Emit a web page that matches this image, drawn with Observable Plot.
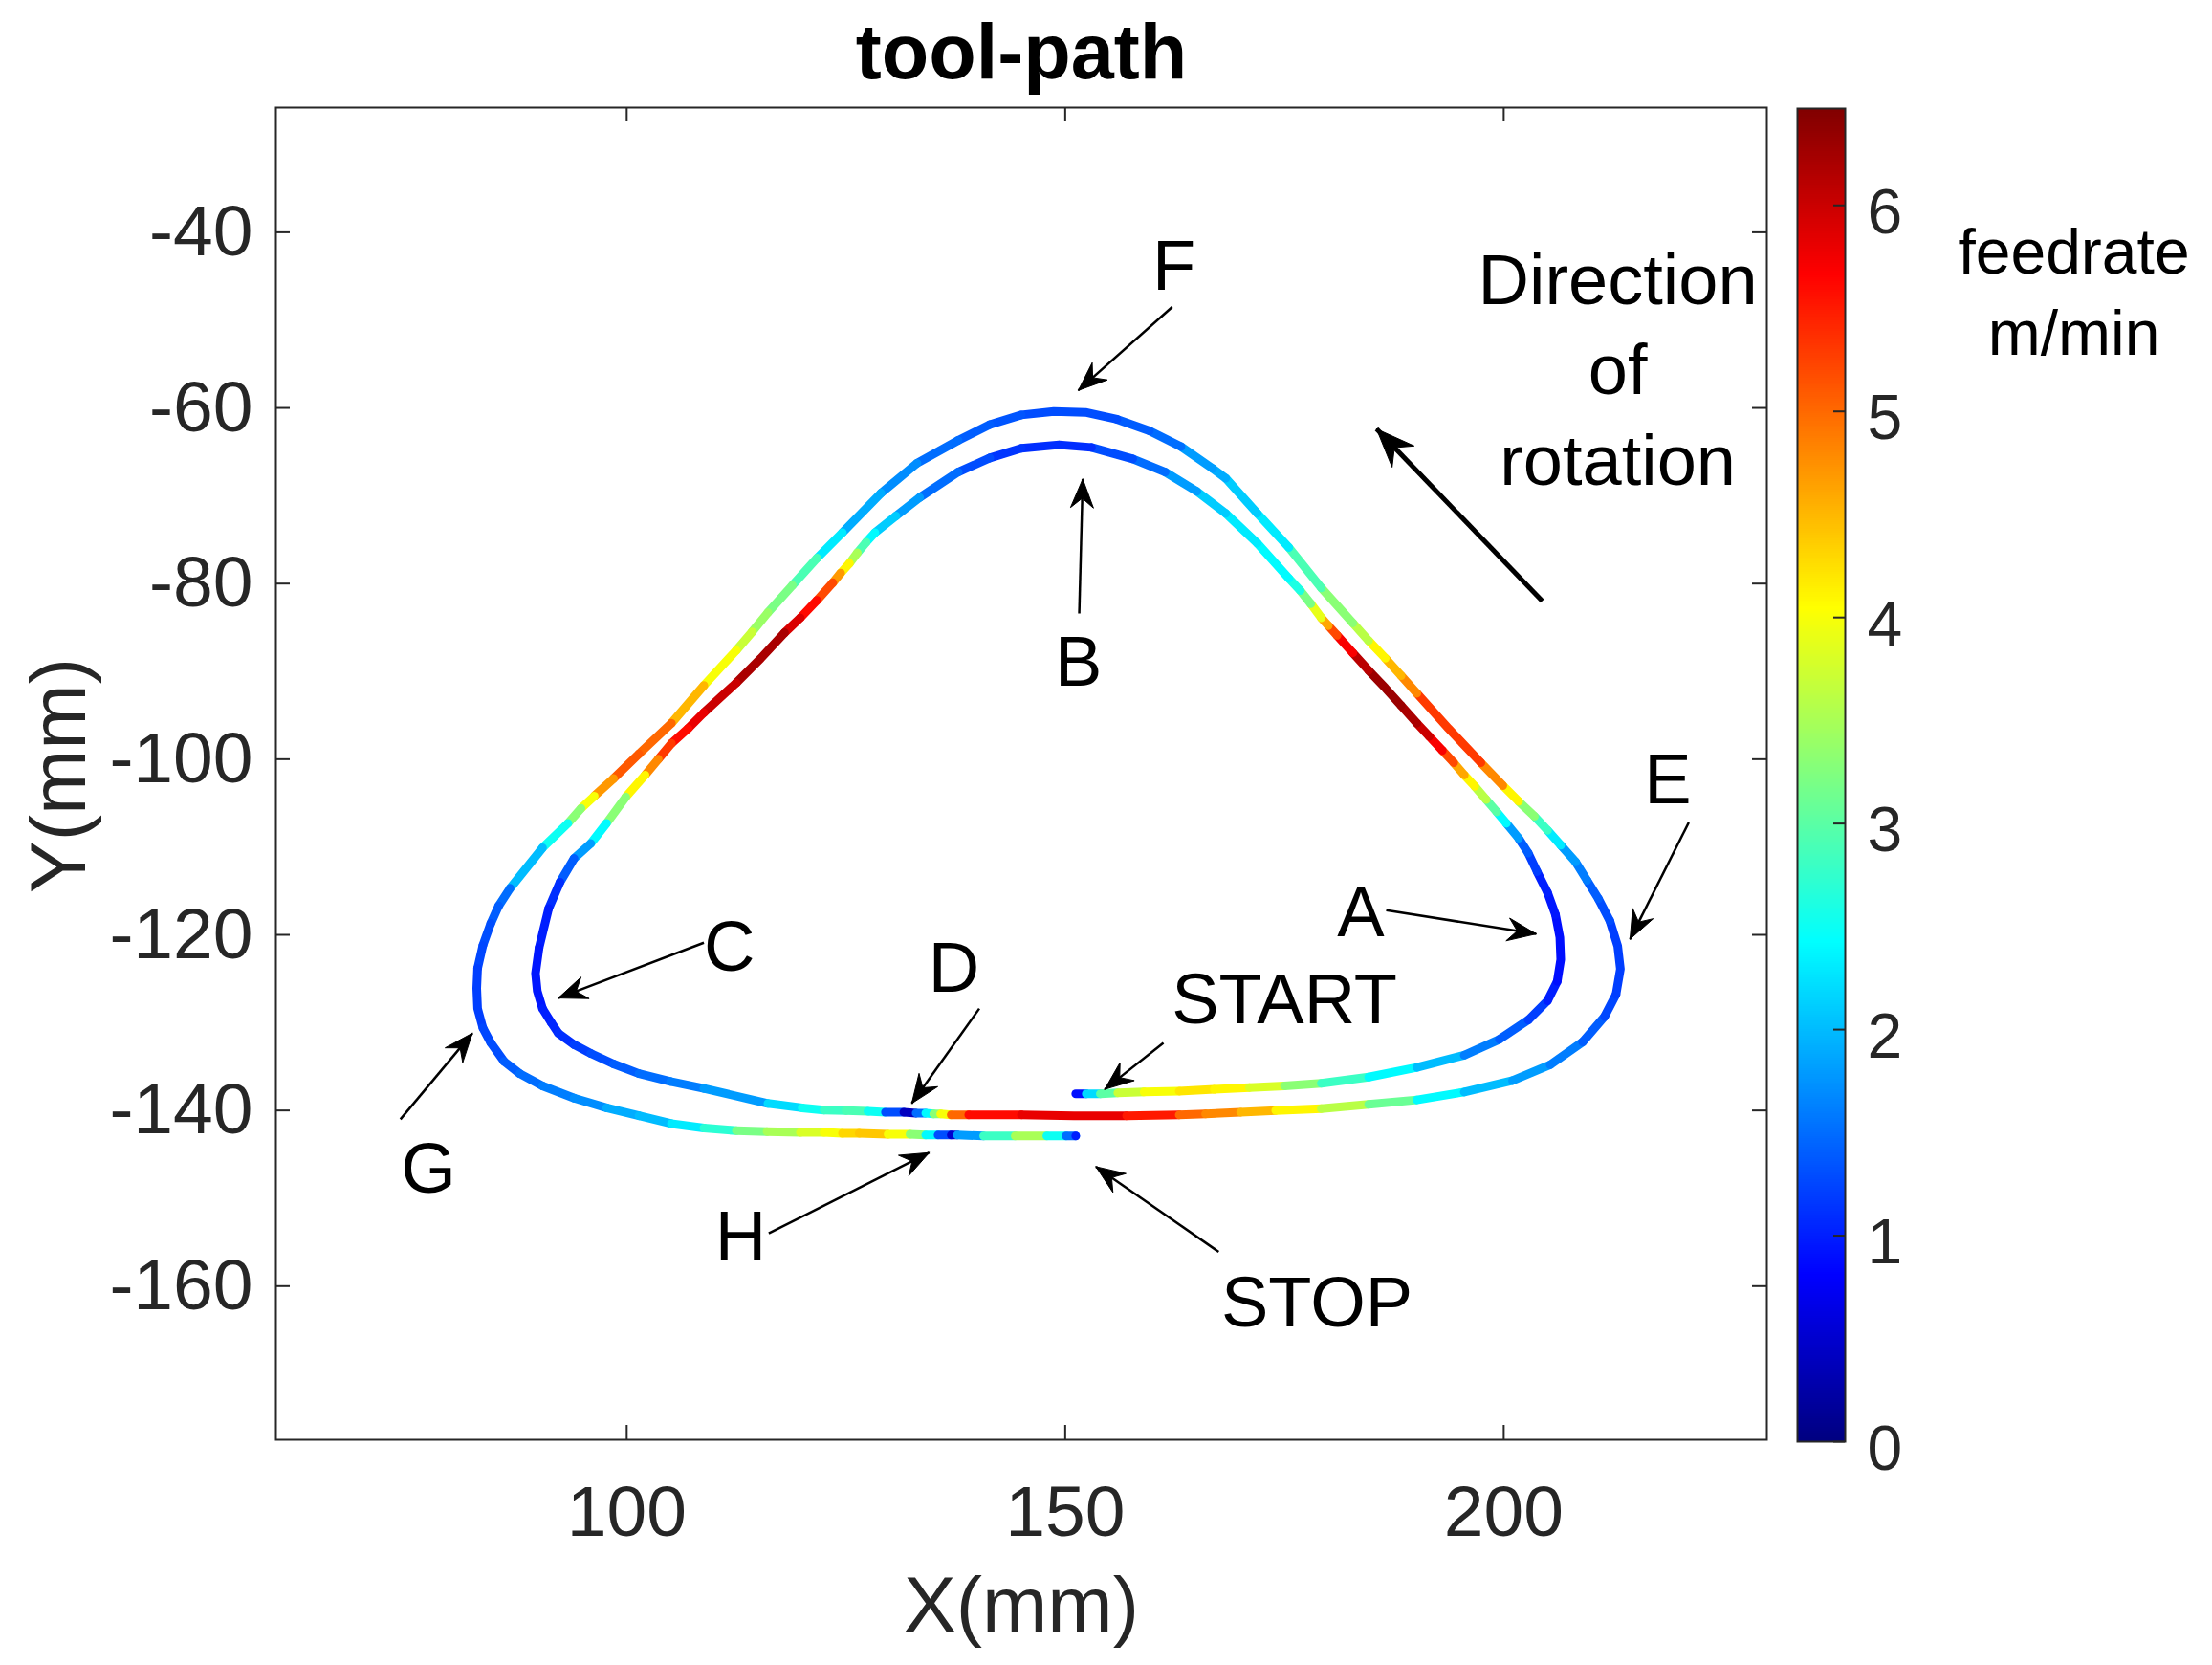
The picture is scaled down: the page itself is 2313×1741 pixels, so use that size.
<!DOCTYPE html>
<html><head><meta charset="utf-8">
<script src="https://cdn.jsdelivr.net/npm/d3@7"></script>
<script src="https://cdn.jsdelivr.net/npm/@observablehq/plot@0.6"></script>
<style>
html,body{margin:0;padding:0;background:#fff;}
#wrap{position:relative;width:2313px;height:1741px;overflow:hidden;background:#fff;}
#wrap svg{position:absolute;top:0;}
</style></head><body><div id="wrap"></div>
<script>
const FONT = '"Liberation Sans", Arial, Helvetica, sans-serif';

// ---- tool path, first (inner) revolution: START -> A -> B -> C -> D
const loop1X = [151.2,152.4,154.0,156.0,159.0,163.0,167.0,171.0,175.0,179.2,
184.6,190.1,195.5,199.5,202.8,205.0,206.1,206.5,206.4,205.9,
205.0,203.8,202.8,201.7,200.3,199.2,198.0,196.7,195.5,194.3,
193.0,191.5,190.1,188.3,186.5,184.6,182.8,181.0,180.0,179.2,
178.0,176.8,175.5,171.9,168.3,165.0,161.4,157.7,153.0,149.3,
145.0,141.4,137.8,133.4,130.7,128.3,127.3,126.3,125.4,124.4,
123.5,121.7,119.8,118.0,115.3,112.5,108.8,107.0,105.1,103.6,
102.1,99.9,97.7,95.9,94.0,92.4,91.1,90.0,89.6,89.8,
90.4,91.4,92.2,94.0,95.9,98.5,101.4,105.0,108.8,116.1,
120.0,122.5,125.0,127.5,129.5,131.6];
const loop1Y = [-138.1,-138.1,-138.1,-138.0,-137.9,-137.8,-137.6,-137.4,-137.2,-136.9,
-136.2,-135.1,-133.7,-131.9,-129.7,-127.5,-125.3,-122.8,-120.3,-117.7,
-115.2,-112.8,-110.7,-109.0,-107.3,-106.0,-104.6,-103.1,-101.8,-100.4,
-99.0,-97.4,-95.9,-93.9,-91.9,-89.9,-87.9,-85.9,-84.8,-83.9,
-82.3,-80.8,-79.4,-75.4,-72.0,-69.5,-67.3,-65.8,-64.5,-64.2,
-64.6,-65.7,-67.3,-70.2,-72.3,-74.2,-75.3,-76.5,-77.7,-78.8,
-79.9,-81.9,-83.9,-85.6,-88.5,-91.3,-94.7,-96.5,-98.2,-100.0,
-101.8,-104.3,-107.3,-109.6,-111.3,-114.0,-117.0,-121.5,-124.4,-126.4,
-128.4,-130.0,-131.2,-132.5,-133.5,-134.7,-135.8,-136.7,-137.5,-139.2,
-139.7,-139.95,-140.0,-140.1,-140.2,-140.2];
const loop1F = [0.9,2.2,3.0,3.7,4.0,4.2,4.1,3.8,3.3,2.8,
2.4,2.0,1.6,1.4,1.2,1.0,0.9,0.9,0.9,0.95,
1.0,1.2,1.4,1.8,2.4,3.0,3.6,4.1,4.6,5.2,
5.7,6.0,6.2,6.3,6.3,6.1,5.7,5.2,4.6,3.9,
3.2,2.6,2.4,2.3,2.1,1.8,1.5,1.3,1.1,1.1,
1.15,1.3,1.5,1.8,2.1,2.4,2.9,3.5,4.1,4.7,
5.2,5.6,5.9,6.2,6.2,6.0,5.8,5.6,5.3,4.8,
4.1,3.3,2.4,1.8,1.4,1.1,1.0,0.95,0.95,0.95,
1.0,1.05,1.1,1.2,1.3,1.4,1.5,1.6,1.8,2.2,
2.5,2.8,2.9,2.5,1.3,0.4];

// ---- second (outer) revolution: D -> E -> F -> G -> H -> STOP
const loop2X = [133.0,134.1,135.0,135.8,137.0,139.0,145.0,151.0,157.0,163.0,
166.0,170.0,174.0,179.2,184.6,190.1,195.5,201.0,205.3,209.0,
211.5,212.8,213.3,213.0,212.1,210.8,209.5,208.2,206.5,205.0,
203.5,201.7,199.9,197.4,193.7,190.1,188.3,186.5,184.6,182.8,
179.2,175.5,171.9,168.3,166.8,163.2,159.6,155.9,152.3,148.7,
145.0,141.4,137.8,133.1,129.0,124.6,121.7,118.9,116.1,114.3,
112.5,108.8,105.1,101.4,98.5,96.3,94.8,93.3,90.4,86.7,
85.4,84.5,83.6,83.0,82.9,83.0,83.6,84.5,86.0,87.8,
90.4,94.0,97.7,101.4,105.1,108.8,112.5,116.0,119.8,122.5,
124.6,126.5,129.8,132.3,134.1,135.5,137.0,137.7,140.7,144.3,
147.9,150.1,151.2];
const loop2Y = [-140.3,-140.3,-140.4,-140.4,-140.5,-140.5,-140.5,-140.6,-140.6,-140.5,
-140.4,-140.2,-140.0,-139.8,-139.3,-138.8,-137.9,-136.6,-134.8,-132.2,
-129.3,-126.8,-123.9,-121.3,-118.4,-115.9,-113.8,-111.7,-109.8,-108.1,
-106.5,-104.8,-103.0,-100.4,-96.5,-92.5,-90.5,-88.5,-86.5,-84.5,
-80.5,-75.9,-72.0,-68.0,-66.9,-64.4,-62.6,-61.3,-60.5,-60.4,
-60.8,-61.9,-63.7,-66.3,-69.7,-74.2,-77.1,-80.2,-83.3,-85.5,
-87.6,-91.6,-95.9,-99.4,-102.2,-104.2,-105.6,-107.3,-110.1,-114.7,
-116.7,-118.7,-121.2,-123.8,-126.1,-128.4,-130.6,-132.3,-134.4,-135.8,
-137.2,-138.6,-139.7,-140.6,-141.5,-142.0,-142.3,-142.4,-142.5,-142.5,
-142.6,-142.6,-142.7,-142.7,-142.8,-142.8,-142.8,-142.8,-142.9,-142.9,
-142.9,-142.9,-142.9];
const loop2F = [1.5,2.4,3.3,4.0,5.0,5.6,5.8,5.8,5.5,5.0,
4.8,4.5,4.1,3.6,3.1,2.4,2.0,1.8,1.6,1.4,
1.25,1.2,1.2,1.2,1.3,1.4,1.6,1.8,2.3,2.8,
3.3,4.1,4.8,5.3,5.3,4.8,4.5,4.1,3.6,3.3,
2.9,2.3,2.1,1.9,1.8,1.5,1.4,1.3,1.3,1.3,
1.35,1.4,1.5,1.7,1.9,2.3,2.9,3.2,3.4,3.7,
4.0,4.5,5.0,5.1,4.7,4.0,3.3,2.5,2.0,1.5,
1.4,1.3,1.25,1.2,1.2,1.2,1.25,1.3,1.4,1.5,
1.6,1.7,1.9,2.0,2.3,2.7,3.2,3.5,3.8,4.0,
4.3,4.4,4.0,3.3,2.4,1.3,0.5,1.8,2.8,3.5,
2.5,1.5,1.0];

// ---- axes
const xDomain = [60, 230];
const yDomain = [-177.5, -25.8];
const xTicks = [100, 150, 200];
const yTicks = [-40, -60, -80, -100, -120, -140, -160];
const cbTicks = [0, 1, 2, 3, 4, 5, 6];
const fMax = 6.47;
const jetStops = [0, 0.125, 0.375, 0.625, 0.875, 1];
const jetColors = ["#000080", "#0000ff", "#00ffff", "#ffff00", "#ff0000", "#800000"];

// ---- annotations
const labelText = ["A", "B", "C", "D", "E", "F", "G", "H", "START", "STOP"];
const labelX = [183.7, 151.5, 111.7, 137.3, 218.7, 162.4, 77.4, 113.0, 175.0, 178.7];
const labelY = [-117.6, -89.0, -121.5, -123.9, -102.4, -44.0, -146.8, -154.5, -127.5, -162.0];
const arrowX1 = [186.6, 151.6, 108.8, 140.2, 221.1, 162.2, 74.2, 116.2, 161.2, 167.5];
const arrowY1 = [-117.2, -83.4, -120.9, -128.4, -107.2, -48.5, -141.0, -154.0, -132.3, -156.1];
const arrowX2 = [203.7, 152.0, 92.2, 132.5, 214.4, 151.5, 82.4, 134.5, 154.5, 153.5];
const arrowY2 = [-119.9, -68.1, -127.2, -139.2, -120.5, -58.0, -131.2, -144.8, -137.6, -146.4];
const dirText = ["Direction", "of", "rotation"];
const dirTextX = [213.0, 213.0, 213.0];
const dirTextY = [-45.6, -55.8, -66.2];
const dirArrowX = [204.4, 185.5];
const dirArrowY = [-82.0, -62.4];

// ---- build tables
const path = [];
loop1X.forEach((x, i) => path.push({x, y: loop1Y[i], f: loop1F[i]}));
loop2X.forEach((x, i) => path.push({x, y: loop2Y[i], f: loop2F[i]}));

const W = 1870, H = 1741;
const mL = 288, mR = 23, mT = 112, mB = 236;
const frameW = W - mL - mR, frameH = H - mT - mB;
const pxPerUnit = frameW / (xDomain[1] - xDomain[0]);

function headPoly(x1, y1, x2, y2, L, Wd, N, id) {
  const dx = x2 - x1, dy = y2 - y1, len = Math.hypot(dx, dy);
  const ux = dx / len, uy = dy / len, px = -uy, py = ux;
  const l = L / pxPerUnit, w = Wd / pxPerUnit, n = N / pxPerUnit;
  return [
    {x: x2, y: y2, id},
    {x: x2 - l * ux + w * px, y: y2 - l * uy + w * py, id},
    {x: x2 - n * ux, y: y2 - n * uy, id},
    {x: x2 - l * ux - w * px, y: y2 - l * uy - w * py, id},
    {x: x2, y: y2, id}
  ];
}
const arrowIdx = d3.range(labelText.length);
const heads = [];
arrowIdx.forEach(i => heads.push(...headPoly(arrowX1[i], arrowY1[i], arrowX2[i], arrowY2[i], 30, 12, 20, "a" + i)));
const dirHead = headPoly(dirArrowX[0], dirArrowY[0], dirArrowX[1], dirArrowY[1], 40, 16, 27, "dir");

const colorScale = {type: "linear", domain: jetStops.map(t => t * fMax), range: jetColors, interpolate: "rgb", clamp: true};
const axisColor = "#262626";

const main = Plot.plot({
  width: W, height: H,
  marginLeft: mL, marginRight: mR, marginTop: mT, marginBottom: mB,
  x: {domain: xDomain},
  y: {domain: yDomain},
  color: colorScale,
  style: {background: "transparent", fontFamily: FONT, overflow: "visible"},
  marks: [
    Plot.line(path, {x: "x", y: "y", stroke: "f", z: null, strokeWidth: 9, strokeLinecap: "round", strokeLinejoin: "round"}),
    Plot.frame({stroke: axisColor, strokeWidth: 2}),
    Plot.tickX(xTicks, {x: d => d, insetTop: frameH - 15, stroke: axisColor, strokeWidth: 2}),
    Plot.tickX(xTicks, {x: d => d, insetBottom: frameH - 15, stroke: axisColor, strokeWidth: 2}),
    Plot.tickY(yTicks, {y: d => d, insetRight: frameW - 15, stroke: axisColor, strokeWidth: 2}),
    Plot.tickY(yTicks, {y: d => d, insetLeft: frameW - 15, stroke: axisColor, strokeWidth: 2}),
    Plot.axisX({ticks: xTicks, tickSize: 0, tickPadding: 47, fontSize: 75, tickFormat: d => String(d), label: null, color: axisColor}),
    Plot.axisY({ticks: yTicks, tickSize: 0, tickPadding: 24, fontSize: 75, tickFormat: d => String(d), label: null, color: axisColor}),
    Plot.text(["X(mm)"], {text: d => d, frameAnchor: "bottom", lineAnchor: "middle", textAnchor: "middle", dy: 174, fontSize: 82, fill: axisColor, fontFamily: FONT}),
    Plot.text(["Y(mm)"], {text: d => d, frameAnchor: "left", lineAnchor: "middle", textAnchor: "middle", dx: -225.5, dy: 2, rotate: -90, fontSize: 82, fill: axisColor, fontFamily: FONT}),
    Plot.text(["tool-path"], {text: d => d, frameAnchor: "top", lineAnchor: "middle", textAnchor: "middle", dy: -56, fontSize: 81, fontWeight: "bold", fill: "black", fontFamily: FONT}),
    Plot.link(arrowIdx, {x1: i => arrowX1[i], y1: i => arrowY1[i], x2: i => arrowX2[i], y2: i => arrowY2[i], stroke: "black", strokeWidth: 2.5}),
    Plot.line(heads, {x: "x", y: "y", z: "id", fill: "black", stroke: "black", strokeWidth: 1}),
    Plot.link([0], {x1: () => dirArrowX[0], y1: () => dirArrowY[0], x2: () => dirArrowX[1], y2: () => dirArrowY[1], stroke: "black", strokeWidth: 5}),
    Plot.line(dirHead, {x: "x", y: "y", z: "id", fill: "black", stroke: "black", strokeWidth: 1}),
    Plot.text(arrowIdx, {x: i => labelX[i], y: i => labelY[i], text: i => labelText[i], fontSize: 74, fill: "black", fontFamily: FONT}),
    Plot.text(d3.range(dirText.length), {x: i => dirTextX[i], y: i => dirTextY[i], text: i => dirText[i], fontSize: 74, fill: "black", fontFamily: FONT})
  ]
});
main.style.left = "0px";

// ---- colorbar
const cbW = 463, cbBar = 50, cbL = 29;
const cbVals = d3.range(0, 648).map(i => i / 100);
const cb = Plot.plot({
  width: cbW, height: H,
  marginLeft: cbL, marginRight: cbW - cbL - cbBar, marginTop: 113, marginBottom: 234,
  x: {domain: [0, 1], axis: null},
  y: {domain: [0, fMax], axis: null},
  color: colorScale,
  style: {background: "transparent", fontFamily: FONT, overflow: "visible"},
  marks: [
    Plot.rect(cbVals, {x1: 0, x2: 1, y1: d => d, y2: d => Math.min(fMax, d + 0.0105), fill: d => d + 0.005, shapeRendering: "crispEdges"}),
    Plot.frame({stroke: axisColor, strokeWidth: 2}),
    Plot.tickY(cbTicks, {y: d => d, insetLeft: cbBar - 12, stroke: axisColor, strokeWidth: 2}),
    Plot.axisY({anchor: "right", ticks: cbTicks, tickSize: 0, tickPadding: 23, dy: 8, fontSize: 66, tickFormat: d => String(d), label: null, color: axisColor}),
    Plot.text(["feedrate"], {text: d => d, frameAnchor: "top", lineAnchor: "middle", textAnchor: "middle", dx: 264, dy: 151.6, fontSize: 66, fill: "black", fontFamily: FONT}),
    Plot.text(["m/min"], {text: d => d, frameAnchor: "top", lineAnchor: "middle", textAnchor: "middle", dx: 264, dy: 235.9, fontSize: 66, fill: "black", fontFamily: FONT})
  ]
});
cb.style.left = "1850px";

const wrap = document.getElementById("wrap");
wrap.appendChild(main);
wrap.appendChild(cb);
</script>
</body></html>
